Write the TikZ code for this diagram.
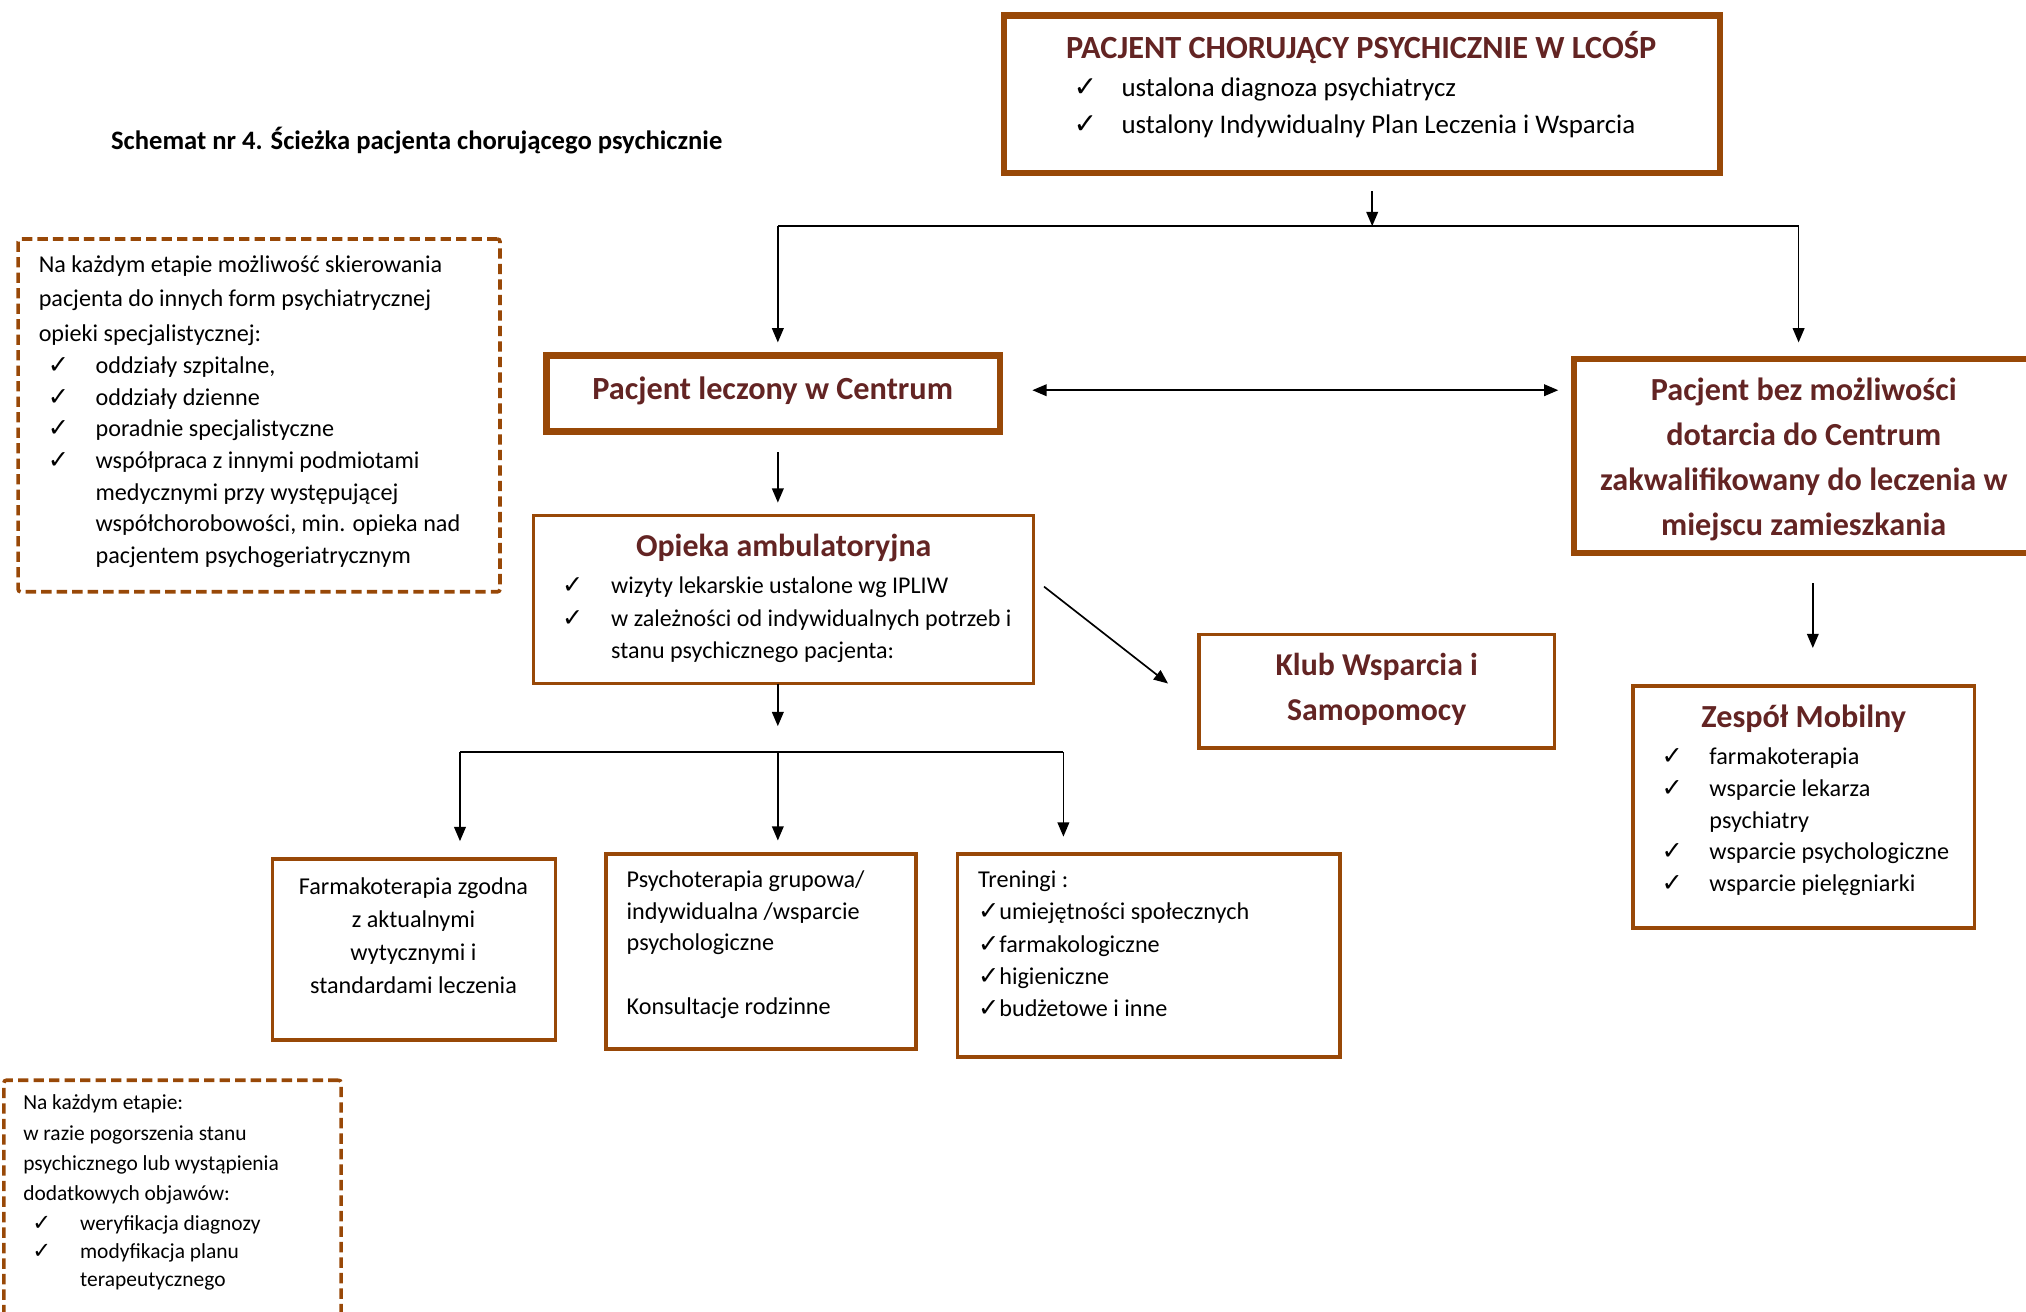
\documentclass[tikz,border=0pt]{standalone}
\usepackage{fontspec}
\usepackage{graphicx}
\setmainfont{Carlito}
\newfontfamily\symfont{DejaVu Sans}
\usetikzlibrary{arrows.meta,calc}
\definecolor{frame}{HTML}{984807}
\definecolor{headred}{HTML}{632423}
\newcommand\fs[2]{\fontsize{#1}{#2}\selectfont}
% check mark in a fixed-width slot
\newcommand\cks{\scalebox{1.05}{\symfont\bfseries\char"2713}}
\newcommand\ck[1]{\makebox[#1][l]{\cks}}

\tikzset{
  heavybox/.style={draw=frame, line width=5pt, outer sep=0pt, inner sep=0pt},
  lightbox/.style={draw=frame, line width=2.8pt, outer sep=0pt, inner sep=0pt},
  notebox/.style={draw=frame, line width=2.8pt, dash pattern=on 8pt off 4pt,
                  rounded corners=2pt, outer sep=0pt, inner sep=0pt},
  conn/.style={draw=black, line width=1.3pt},
  flow/.style={conn, -{Triangle[length=11pt,width=9pt]}},
  dblflow/.style={conn, {Triangle[length=11pt,width=9pt]}-{Triangle[length=11pt,width=9pt]}},
  txt/.style={inner sep=0pt, outer sep=0pt, anchor=base west, text=black, align=left},
  headtext/.style={inner sep=0pt, outer sep=0pt, anchor=base, text=headred, align=center},
}

\begin{document}
\begin{tikzpicture}[x=1pt, y=-1pt]
\useasboundingbox (0,0) rectangle (1568,1015);

% ---------- boxes ----------
\node[heavybox, minimum width=554pt, minimum height=122pt] (top)      at (1054,73)    {};
\node[heavybox, minimum width=351pt, minimum height=59pt]  (leczony)  at (598.5,304.5) {};
\node[heavybox, minimum width=362pt, minimum height=150pt] (home)     at (1399,353)   {};
\node[lightbox, minimum width=387pt, minimum height=130pt] (opieka)   at (606.5,464)  {};
\node[lightbox, minimum width=275pt, minimum height=88pt]  (klub)     at (1065.5,535) {};
\node[lightbox, minimum width=219pt, minimum height=140pt] (farm)     at (320.5,735)  {};
\node[lightbox, minimum width=240pt, minimum height=151pt] (psycho)   at (589,736.5)  {};
\node[lightbox, minimum width=296pt, minimum height=157pt] (trening)  at (889,739.5)  {};
\node[lightbox, minimum width=264pt, minimum height=187pt] (zespol)   at (1396,624.5) {};
\node[notebox,  minimum width=373pt, minimum height=273pt] (noteA)    at (200.5,321.5) {};
\node[notebox,  minimum width=261pt, minimum height=210pt] (noteB)    at (133.5,941)  {};

% ---------- caption ----------
\node[txt, font=\bfseries\fs{20.6}{24}] (caption) at (86,116)
  {Schemat nr 4. Ścieżka pacjenta chorującego psychicznie};

% ---------- top box ----------
\node[headtext, font=\bfseries\fs{25}{28}] (topT) at (1053.5,45)
  {PACJENT CHORUJĄCY PSYCHICZNIE W LCOŚP};
\node[txt, font=\fs{20.8}{28}] (topL) at (831,75)
  {\begin{tabular}[t]{@{}l@{}}
   \ck{37pt}ustalona diagnoza psychiatrycz\\
   \ck{37pt}ustalony Indywidualny Plan Leczenia i Wsparcia
   \end{tabular}};

% ---------- second level ----------
\node[headtext, font=\bfseries\fs{25}{28}] (leczonyT) at (598,309)
  {Pacjent leczony w Centrum};
\node[headtext, font=\bfseries\fs{24.9}{34.7}] (homeT) at (1396,310)
  {\begin{tabular}[t]{@{}c@{}}
   Pacjent bez możliwości\\ dotarcia do Centrum\\
   zakwalifikowany do leczenia w\\ miejscu zamieszkania
   \end{tabular}};

% ---------- outpatient care ----------
\node[headtext, font=\bfseries\fs{24.7}{28}] (opiekaT) at (606.5,431)
  {Opieka ambulatoryjna};
\node[txt, font=\fs{18.6}{25}] (opiekaL) at (435,459.5)
  {\begin{tabular}[t]{@{}l@{}}
   \ck{38pt}wizyty lekarskie ustalone wg IPLIW\\
   \ck{38pt}w zależności od indywidualnych potrzeb i\\
   \hspace{38pt}stanu psychicznego pacjenta:
   \end{tabular}};

\node[headtext, font=\bfseries\fs{24.6}{35}] (klubT) at (1065.5,523)
  {\begin{tabular}[t]{@{}c@{}}Klub Wsparcia i\\ Samopomocy\end{tabular}};

% ---------- mobile team ----------
\node[headtext, font=\bfseries\fs{24.9}{28}] (zespolT) at (1396,563)
  {Zespół Mobilny};
\node[txt, font=\fs{18.7}{24.5}] (zespolL) at (1286,592)
  {\begin{tabular}[t]{@{}l@{}}
   \ck{37pt}farmakoterapia\\
   \ck{37pt}wsparcie lekarza\\
   \hspace{37pt}psychiatry\\
   \ck{37pt}wsparcie psychologiczne\\
   \ck{37pt}wsparcie pielęgniarki
   \end{tabular}};

% ---------- third level ----------
\node[headtext, text=black, font=\fs{18.7}{25.7}] (farmT) at (320,692)
  {\begin{tabular}[t]{@{}c@{}}
   Farmakoterapia zgodna\\ z aktualnymi\\ wytycznymi i\\ standardami leczenia
   \end{tabular}};
\node[txt, font=\fs{18.7}{24.5}] (psychoT) at (485,687)
  {\begin{tabular}[t]{@{}l@{}}
   Psychoterapia grupowa/\\ indywidualna /wsparcie\\ psychologiczne\\ \\ Konsultacje rodzinne
   \end{tabular}};
\node[txt, font=\fs{18.7}{25}] (treningT) at (757,687)
  {\begin{tabular}[t]{@{}l@{}}
   Treningi :\\
   \cks umiejętności społecznych\\
   \cks farmakologiczne\\
   \cks higieniczne\\
   \cks budżetowe i inne
   \end{tabular}};

% ---------- side notes ----------
\node[txt, font=\fs{18.7}{26.5}] (noteAT) at (30,211)
  {\begin{tabular}[t]{@{}l@{}}
   Na każdym etapie możliwość skierowania\\
   pacjenta do innych form psychiatrycznej\\
   opieki specjalistycznej:
   \end{tabular}};
\node[txt, font=\fs{18.7}{24.5}] (noteAL) at (37,289)
  {\begin{tabular}[t]{@{}l@{}}
   \ck{37pt}oddziały szpitalne,\\
   \ck{37pt}oddziały dzienne\\
   \ck{37pt}poradnie specjalistyczne\\
   \ck{37pt}współpraca z innymi podmiotami\\
   \hspace{37pt}medycznymi przy występującej\\
   \hspace{37pt}współchorobowości, min. opieka nad\\
   \hspace{37pt}pacjentem psychogeriatrycznym
   \end{tabular}};

\node[txt, font=\fs{16.6}{23.3}] (noteBT) at (18,859)
  {\begin{tabular}[t]{@{}l@{}}
   Na każdym etapie:\\
   w razie pogorszenia stanu\\
   psychicznego lub wystąpienia\\
   dodatkowych objawów:
   \end{tabular}};
\node[txt, font=\fs{16.6}{22}] (noteBL) at (25,952)
  {\begin{tabular}[t]{@{}l@{}}
   \ck{37pt}weryfikacja diagnozy\\
   \ck{37pt}modyfikacja planu\\
   \hspace{37pt}terapeutycznego
   \end{tabular}};

% ---------- connectors ----------
\coordinate (busTop) at (1062,175);
\coordinate (busL)   at (602,175);
\coordinate (busR)   at (1392,175);
\draw[flow] ($(top.south -| busTop)+(0,14)$) -- (busTop);
\draw[conn] (busL) -- (busR);
\draw[flow, shorten >=10pt] (busL) -- (busL |- leczony.north);
\draw[flow, shorten >=13pt] (busR) -- (busR |- home.north);

\draw[dblflow, shorten <=25pt, shorten >=12pt]
  ($(leczony.east)+(0,-2.5)$) -- ($(home.west |- leczony.east)+(0,-2.5)$);

\draw[flow, shorten <=16pt, shorten >=10pt]
  ([xshift=3.5pt]leczony.south) -- ([xshift=-4.5pt]opieka.north);

\draw[flow] ([xshift=8pt,yshift=10pt]opieka.east) -- ([xshift=-24pt,yshift=6pt]klub.west);

\coordinate (busM) at (602,582);
\coordinate (busML) at (356,582);
\coordinate (busMR) at (823,582);
\draw[flow, shorten >=20pt] (opieka.south -| busM) -- (busM);
\draw[conn] (busML) -- (busMR);
\draw[flow, shorten >=14pt] (busML) -- (busML |- farm.north);
\draw[flow, shorten >=10.5pt] (busM) -- (busM |- psycho.north);
\draw[flow, shorten >=13.5pt] (busMR) -- (busMR |- trening.north);

\draw[flow, shorten <=23.5pt, shorten >=29.5pt]
  ([xshift=4pt]home.south) -- ([xshift=7pt]zespol.north);
\end{tikzpicture}
\end{document}
